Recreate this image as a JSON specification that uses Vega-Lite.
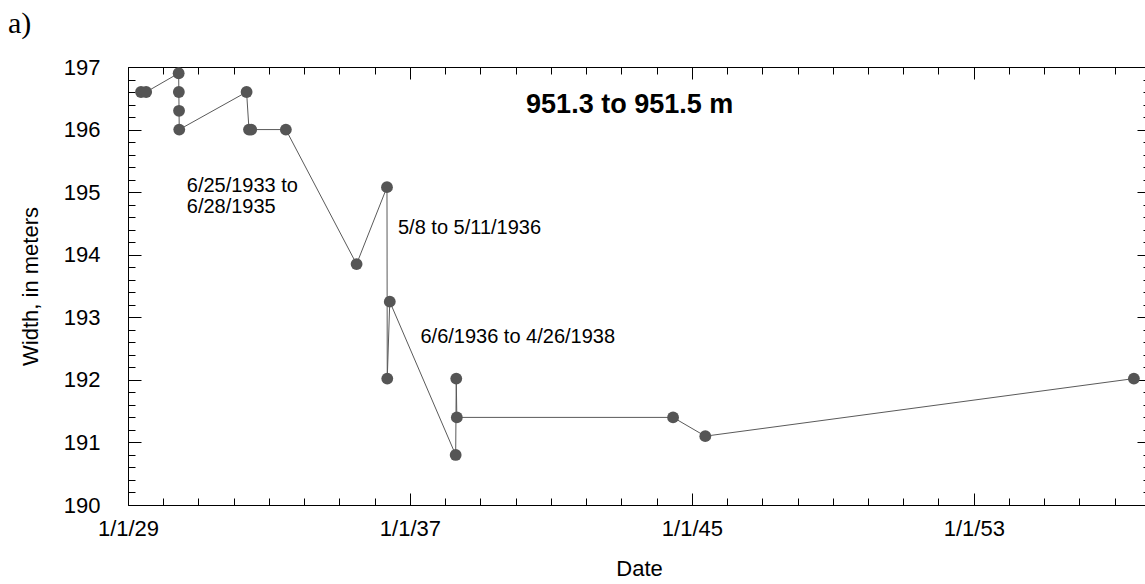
{
  "$schema": "https://vega.github.io/schema/vega-lite/v6.json",
  "width": 1022,
  "height": 438,
  "autosize": {"type": "none"},
  "padding": {"left": 128, "top": 67, "right": 0, "bottom": 79},
  "background": "white",
  "config": {
    "view": {"stroke": null},
    "font": "Liberation Sans",
    "axis": {
      "domainColor": "#000", "tickColor": "#000", "labelColor": "#000", "titleColor": "#000",
      "labelFont": "Liberation Sans", "titleFont": "Liberation Sans",
      "labelFontSize": 22, "titleFontSize": 22, "titleFontWeight": "normal",
      "grid": false, "domainWidth": 1, "tickWidth": 1
    }
  },
  "title": {"text": "a)", "font": "Liberation Serif", "fontSize": 30, "fontWeight": "normal", "anchor": "start", "frame": "group", "dx": -120, "offset": 17, "color": "#000"},
  "datasets": {
    "main": [
      {"seq": 1, "date": "1929-05-16T00:00", "width": 196.6},
      {"seq": 2, "date": "1929-07-08T00:00", "width": 196.6},
      {"seq": 3, "date": "1930-06-10T00:00", "width": 196.9},
      {"seq": 4, "date": "1930-06-12T00:00", "width": 196.6},
      {"seq": 5, "date": "1930-06-14T00:00", "width": 196.3},
      {"seq": 6, "date": "1930-06-16T00:00", "width": 196.0},
      {"seq": 7, "date": "1932-05-14T00:00", "width": 196.6},
      {"seq": 8, "date": "1932-06-08T00:00", "width": 196.0},
      {"seq": 9, "date": "1932-07-01T00:00", "width": 196.0},
      {"seq": 10, "date": "1933-06-25T00:00", "width": 196.0},
      {"seq": 11, "date": "1935-06-28T00:00", "width": 193.85},
      {"seq": 12, "date": "1936-05-08T00:00", "width": 195.08},
      {"seq": 13, "date": "1936-05-11T00:00", "width": 192.02},
      {"seq": 14, "date": "1936-06-06T00:00", "width": 193.25},
      {"seq": 15, "date": "1938-04-20T00:00", "width": 190.8},
      {"seq": 16, "date": "1938-04-26T00:00", "width": 192.02},
      {"seq": 17, "date": "1938-05-02T00:00", "width": 191.4},
      {"seq": 18, "date": "1944-06-20T00:00", "width": 191.4},
      {"seq": 19, "date": "1945-05-20T00:00", "width": 191.1},
      {"seq": 20, "date": "1957-07-18T00:00", "width": 192.02}
    ],
    "notes": [
      {"date": "1930-09-02T00:00", "width": 195.0, "label": "6/25/1933 to\n6/28/1935"},
      {"date": "1936-08-30T00:00", "width": 194.33, "label": "5/8 to 5/11/1936"},
      {"date": "1937-04-20T00:00", "width": 192.594, "label": "6/6/1936 to 4/26/1938"}
    ],
    "heading": [
      {"date": "1943-03-28T00:00", "width": 196.27, "label": "951.3 to 951.5 m"}
    ]
  },
  "layer": [
    {
      "data": {"name": "main"},
      "mark": {"type": "line", "color": "#5a5a5a", "strokeWidth": 1},
      "encoding": {
        "x": {
          "field": "date", "type": "temporal",
          "scale": {"domain": [{"year": 1929, "month": 1, "date": 1}, {"year": 1958, "month": 1, "date": 1}], "nice": false},
          "axis": {
            "orient": "bottom", "title": "Date",
            "tickCount": {"interval": "year", "step": 1},
            "labelExpr": "(year(datum.value)-1929)%8==0 ? '1/1/' + substring(toString(year(datum.value)),2,4) : ''",
            "tickSize": {"condition": {"test": "(year(datum.value)-1929)%8==0", "value": -12}, "value": -7},
            "labelPadding": 25, "titlePadding": 14, "labelFlush": false, "labelOverlap": false
          }
        },
        "y": {
          "field": "width", "type": "quantitative",
          "scale": {"domain": [190, 197], "nice": false, "zero": false},
          "axis": {
            "orient": "left", "title": "Width, in meters",
            "values": [190,190.2,190.4,190.6,190.8,191,191.2,191.4,191.6,191.8,192,192.2,192.4,192.6,192.8,193,193.2,193.4,193.6,193.8,194,194.2,194.4,194.6,194.8,195,195.2,195.4,195.6,195.8,196,196.2,196.4,196.6,196.8,197],
            "labelExpr": "abs(datum.value-round(datum.value))<0.01 ? format(datum.value,'d') : ''",
            "tickSize": {"condition": {"test": "abs(datum.value-round(datum.value))<0.01", "value": -13}, "value": -7},
            "labelPadding": 41, "titlePadding": 21, "labelOverlap": false
          }
        },
        "order": {"field": "seq", "type": "quantitative"}
      }
    },
    {
      "data": {"name": "main"},
      "mark": {"type": "point", "filled": true, "shape": "circle", "size": 140, "color": "#555555", "opacity": 1},
      "encoding": {
        "x": {
          "field": "date", "type": "temporal",
          "scale": {"domain": [{"year": 1929, "month": 1, "date": 1}, {"year": 1958, "month": 1, "date": 1}], "nice": false},
          "axis": {
            "orient": "top", "title": null, "labels": false,
            "tickCount": {"interval": "year", "step": 1},
            "tickSize": {"condition": {"test": "(year(datum.value)-1929)%8==0", "value": -12}, "value": -7}
          }
        },
        "y": {
          "field": "width", "type": "quantitative",
          "scale": {"domain": [190, 197], "nice": false, "zero": false},
          "axis": {
            "orient": "right", "title": null, "labels": false,
            "values": [190,190.2,190.4,190.6,190.8,191,191.2,191.4,191.6,191.8,192,192.2,192.4,192.6,192.8,193,193.2,193.4,193.6,193.8,194,194.2,194.4,194.6,194.8,195,195.2,195.4,195.6,195.8,196,196.2,196.4,196.6,196.8,197],
            "tickSize": {"condition": {"test": "abs(datum.value-round(datum.value))<0.01", "value": -13}, "value": -7}
          }
        }
      }
    },
    {
      "data": {"name": "notes"},
      "mark": {"type": "text", "align": "left", "baseline": "alphabetic", "fontSize": 20, "font": "Liberation Sans", "color": "#000", "lineBreak": "\n", "lineHeight": 21},
      "encoding": {
        "x": {"field": "date", "type": "temporal", "scale": {"domain": [{"year": 1929, "month": 1, "date": 1}, {"year": 1958, "month": 1, "date": 1}], "nice": false}, "axis": null},
        "y": {"field": "width", "type": "quantitative", "scale": {"domain": [190, 197], "nice": false, "zero": false}, "axis": null},
        "text": {"field": "label", "type": "nominal"}
      }
    },
    {
      "data": {"name": "heading"},
      "mark": {"type": "text", "align": "center", "baseline": "alphabetic", "fontSize": 27, "fontWeight": "bold", "font": "Liberation Sans", "color": "#000"},
      "encoding": {
        "x": {"field": "date", "type": "temporal", "scale": {"domain": [{"year": 1929, "month": 1, "date": 1}, {"year": 1958, "month": 1, "date": 1}], "nice": false}, "axis": null},
        "y": {"field": "width", "type": "quantitative", "scale": {"domain": [190, 197], "nice": false, "zero": false}, "axis": null},
        "text": {"field": "label", "type": "nominal"}
      }
    }
  ],
  "resolve": {"axis": {"x": "independent", "y": "independent"}}
}
